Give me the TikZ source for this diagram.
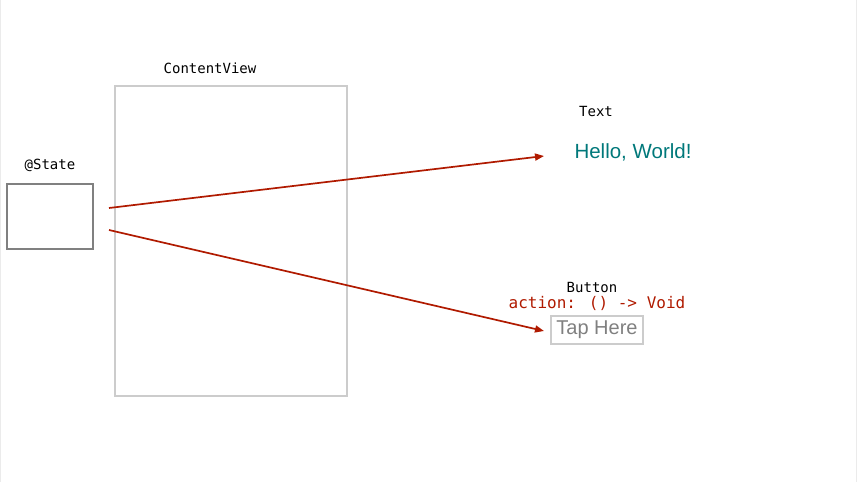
\documentclass[tikz,border=0pt]{standalone}
\usepackage{fontspec}
\setmainfont{Liberation Sans}
\newfontfamily\monofont{DejaVu Sans Mono}
\usetikzlibrary{arrows.meta}
\definecolor{arrred}{HTML}{B01A00}
\definecolor{teal2}{HTML}{00787A}
\definecolor{boxgray}{HTML}{808080}
\definecolor{lightbox}{HTML}{CCCCCC}
\tikzset{
  lbl/.style={font=\monofont\fontsize{14}{16}\selectfont, text=black, inner sep=0pt},
  conn/.style={draw=arrred, line width=1.7pt, -{Triangle[length=9pt,width=7pt]}},
}
\begin{document}
\begin{tikzpicture}[x=1pt,y=-1pt]
\useasboundingbox (0,0) rectangle (857,482);
\draw[draw=black!8, line width=1pt] (0.5,0) -- (0.5,482) (856.5,0) -- (856.5,482);
% ContentView
\node[draw=lightbox, line width=1.8pt, minimum width=232pt, minimum height=310pt, inner sep=0pt] (cv) at (231,241) {};
\node[lbl] (cvl) at (210,68) {ContentView};
% State
\node[draw=boxgray, line width=1.8pt, minimum width=86pt, minimum height=65pt, inner sep=0pt] (st) at (50,216.5) {};
\node[lbl] (stl) at (50,165) {@State};
% Text
\node[lbl] (txl) at (596,111) {Text};
\node[inner sep=0pt, text=teal2, font=\fontsize{20.5}{24}\selectfont] (hw) at (633,152) {Hello, World!};
% Button
\node[lbl] (btl) at (592,287) {Button};
\node[inner sep=0pt, text=arrred, font=\monofont\fontsize{16}{18}\selectfont] (act) at (597,303) {action: () -> Void};
\node[draw=lightbox, line width=1.8pt, minimum width=92pt, minimum height=28pt, inner sep=0pt, text=boxgray, font=\fontsize{20}{22}\selectfont] (tap) at (597,330) {Tap Here};
% connectors
\coordinate (s1) at (109,208);
\coordinate (s2) at (109,230);
\coordinate (e1) at (544,156);
\coordinate (e2) at (544,331);
\draw[conn] (s1) -- (e1);
\draw[conn] (s2) -- (e2);
\end{tikzpicture}
\end{document}
